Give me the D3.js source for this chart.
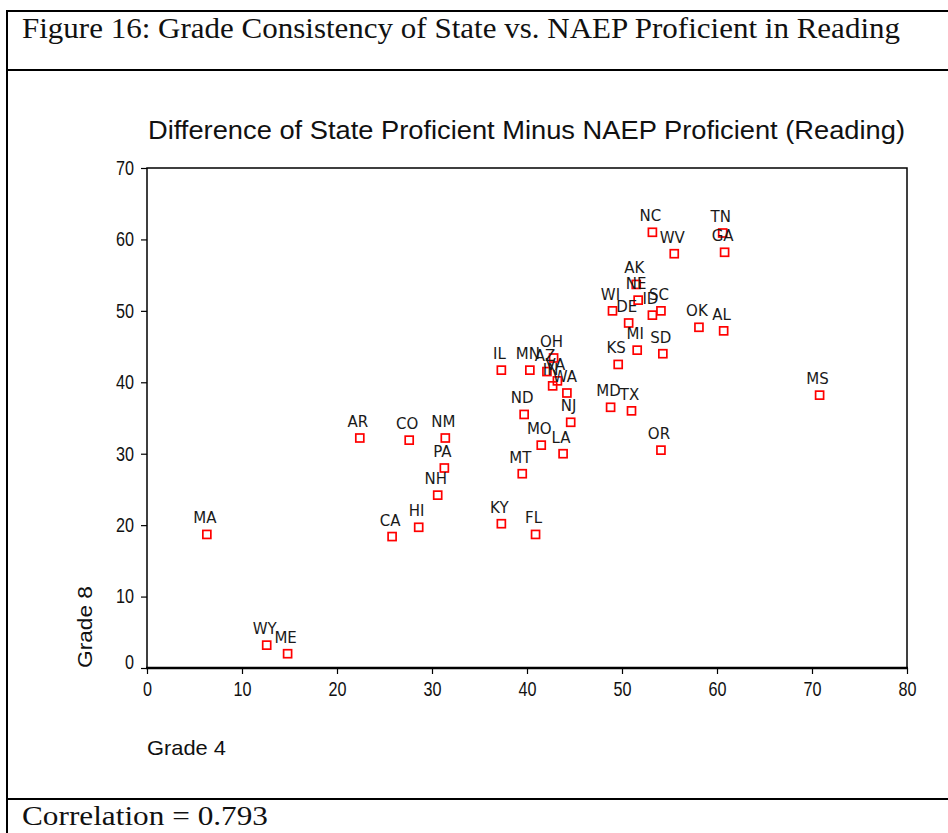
<!DOCTYPE html>
<html>
<head>
<meta charset="utf-8">
<script src="https://cdn.jsdelivr.net/npm/d3@7"></script>
<style>
	html, body { margin: 0; padding: 0; background: #fff; }
	svg { display: block; }
</style>
</head>
<body>
<script>
(function() {
	'use strict';

	// DATA //

	var STATES = [ 'MA', 'WY', 'ME', 'AR', 'CO', 'NM', 'PA', 'NH', 'HI', 'CA', 'KY', 'FL', 'MT', 'MO', 'LA', 'ND', 'NJ', 'IL', 'MN', 'AZ', 'OH', 'VA', 'IN', 'WA', 'NC', 'WV', 'TN', 'GA', 'AK', 'NE', 'WI', 'ID', 'SC', 'DE', 'OK', 'AL', 'MI', 'SD', 'KS', 'MD', 'TX', 'OR', 'MS' ];

	var GRADE4 = [ 6.3, 12.6, 14.8, 22.4, 27.6, 31.4, 31.3, 30.6, 28.6, 25.8, 37.3, 40.9, 39.5, 41.5, 43.8, 39.7, 44.6, 37.3, 40.3, 42.1, 42.8, 43.2, 42.7, 44.2, 53.2, 55.5, 60.6, 60.8, 51.5, 51.7, 49.0, 53.2, 54.1, 50.7, 58.1, 60.7, 51.6, 54.3, 49.6, 48.8, 51.0, 54.1, 70.8 ];

	var GRADE8 = [ 18.7, 3.2, 2.0, 32.2, 31.9, 32.2, 28.0, 24.2, 19.7, 18.4, 20.2, 18.7, 27.2, 31.2, 30.0, 35.5, 34.4, 41.7, 41.7, 41.5, 43.4, 40.2, 39.5, 38.5, 61.0, 58.0, 60.9, 58.2, 53.7, 51.5, 50.0, 49.4, 50.0, 48.3, 47.7, 47.2, 44.5, 44.0, 42.5, 36.5, 36.0, 30.5, 38.2 ];

	var X_TICKS = [ 0, 10, 20, 30, 40, 50, 60, 70, 80 ],
		Y_TICKS = [ 0, 10, 20, 30, 40, 50, 60, 70 ];


	// VARIABLES //

	var WIDTH = 948,
		HEIGHT = 833,
		LEFT = 147,
		RIGHT = 907,
		TOP = 168,
		BOTTOM = 668,
		BOX = 8,
		NARROW = '"Liberation Sans Narrow", "Liberation Sans", Arial, sans-serif';

	var svg, xScale, yScale, plot, points, i;

	// Zip the arrays:
	points = [];
	for ( i = 0; i < STATES.length; i++ ) {
		points.push({ state: STATES[ i ], x: GRADE4[ i ], y: GRADE8[ i ] });
	}

	svg = d3.select( 'body' ).append( 'svg' )
		.attr( 'width', WIDTH )
		.attr( 'height', HEIGHT );

	svg.append( 'rect' )
		.attr( 'width', WIDTH )
		.attr( 'height', HEIGHT )
		.attr( 'fill', '#fff' );

	// Figure frame lines:
	var frame = svg.append( 'g' )
		.attr( 'stroke', '#000' )
		.attr( 'stroke-width', 2 );
	frame.append( 'line' ).attr( 'x1', 7 ).attr( 'x2', WIDTH ).attr( 'y1', 11 ).attr( 'y2', 11 );
	frame.append( 'line' ).attr( 'x1', 7 ).attr( 'x2', WIDTH ).attr( 'y1', 70 ).attr( 'y2', 70 );
	frame.append( 'line' ).attr( 'x1', 7 ).attr( 'x2', WIDTH ).attr( 'y1', 799 ).attr( 'y2', 799 );
	frame.append( 'line' ).attr( 'x1', 7 ).attr( 'x2', 7 ).attr( 'y1', 10 ).attr( 'y2', HEIGHT );

	// Figure caption and footer:
	svg.append( 'text' )
		.attr( 'x', 22 )
		.attr( 'y', 38 )
		.attr( 'font-family', '"Liberation Serif", "DejaVu Serif", serif' )
		.attr( 'font-size', 29 )
		.attr( 'textLength', 878 )
		.attr( 'lengthAdjust', 'spacingAndGlyphs' )
		.attr( 'fill', '#111' )
		.text( 'Figure 16: Grade Consistency of State vs. NAEP Proficient in Reading' );

	svg.append( 'text' )
		.attr( 'x', 22 )
		.attr( 'y', 825 )
		.attr( 'font-family', '"Liberation Serif", "DejaVu Serif", serif' )
		.attr( 'font-size', 28 )
		.attr( 'textLength', 246 )
		.attr( 'lengthAdjust', 'spacingAndGlyphs' )
		.attr( 'fill', '#111' )
		.text( 'Correlation = 0.793' );

	// Chart title:
	svg.append( 'text' )
		.attr( 'x', LEFT + 1 )
		.attr( 'y', 139 )
		.attr( 'font-family', NARROW )
		.attr( 'font-size', 25 )
		.attr( 'textLength', 757 )
		.attr( 'lengthAdjust', 'spacingAndGlyphs' )
		.attr( 'fill', '#111' )
		.text( 'Difference of State Proficient Minus NAEP Proficient (Reading)' );

	// SCALES //

	xScale = d3.scaleLinear().domain( [ 0, 80 ] ).range( [ LEFT, RIGHT ] );
	yScale = d3.scaleLinear().domain( [ 0, 70 ] ).range( [ BOTTOM, TOP ] );

	// AXES //

	var xAxis = svg.append( 'g' )
		.attr( 'transform', 'translate(0,' + BOTTOM + ')' )
		.call( d3.axisBottom( xScale ).tickValues( X_TICKS ).tickSize( 6 ).tickSizeOuter( 0 ).tickPadding( 8 ) );

	var yAxis = svg.append( 'g' )
		.attr( 'transform', 'translate(' + LEFT + ',0)' )
		.call( d3.axisLeft( yScale ).tickValues( Y_TICKS ).tickSize( 6 ).tickSizeOuter( 0 ).tickPadding( 7 ) );

	[ xAxis, yAxis ].forEach( function ( ax ) {
		ax.select( '.domain' ).remove();
		ax.selectAll( 'line' ).attr( 'stroke', '#000' ).attr( 'stroke-width', 1.2 );
		ax.selectAll( 'text' )
			.attr( 'font-family', NARROW )
			.attr( 'font-size', 20 )
			.attr( 'fill', '#111' )
			.attr( 'textLength', function () { return 9 * this.textContent.length; })
			.attr( 'lengthAdjust', 'spacingAndGlyphs' );
	});

	// Lift the zero label off the x axis, as in the original:
	yAxis.selectAll( '.tick' ).filter( function ( d ) { return d === 0; })
		.select( 'text' ).attr( 'y', -6 );

	// Plot frame:
	svg.append( 'rect' )
		.attr( 'x', LEFT )
		.attr( 'y', TOP )
		.attr( 'width', RIGHT - LEFT )
		.attr( 'height', BOTTOM - TOP )
		.attr( 'fill', 'none' )
		.attr( 'stroke', '#000' )
		.attr( 'stroke-width', 1.5 );
	svg.append( 'line' )
		.attr( 'x1', LEFT - 1 ).attr( 'x2', RIGHT + 1 )
		.attr( 'y1', BOTTOM ).attr( 'y2', BOTTOM )
		.attr( 'stroke', '#000' )
		.attr( 'stroke-width', 2.5 );

	// Axis titles:
	svg.append( 'text' )
		.attr( 'x', LEFT )
		.attr( 'y', 755 )
		.attr( 'font-family', NARROW )
		.attr( 'font-size', 21 )
		.attr( 'textLength', 79 )
		.attr( 'lengthAdjust', 'spacingAndGlyphs' )
		.attr( 'fill', '#111' )
		.text( 'Grade 4' );

	svg.append( 'text' )
		.attr( 'transform', 'translate(92,' + BOTTOM + ') rotate(-90)' )
		.attr( 'font-family', NARROW )
		.attr( 'font-size', 21 )
		.attr( 'textLength', 82 )
		.attr( 'lengthAdjust', 'spacingAndGlyphs' )
		.attr( 'fill', '#111' )
		.text( 'Grade 8' );

	// POINTS //

	plot = svg.append( 'g' ).attr( 'class', 'points' );

	plot.selectAll( 'rect' )
		.data( points )
	  .enter().append( 'rect' )
		.attr( 'x', function ( d ) { return xScale( d.x ) - BOX / 2; })
		.attr( 'y', function ( d ) { return yScale( d.y ) - BOX / 2; })
		.attr( 'width', BOX )
		.attr( 'height', BOX )
		.attr( 'fill', 'none' )
		.attr( 'stroke', '#f00' )
		.attr( 'stroke-width', 1.7 );

	plot.selectAll( 'text' )
		.data( points )
	  .enter().append( 'text' )
		.attr( 'x', function ( d ) { return xScale( d.x ) - 2; })
		.attr( 'y', function ( d ) { return yScale( d.y ) - 11; })
		.attr( 'text-anchor', 'middle' )
		.attr( 'font-family', '"DejaVu Sans", Verdana, sans-serif' )
		.attr( 'font-size', 15 )
		.attr( 'fill', '#1a1a1a' )
		.text( function ( d ) { return d.state; });

})();
</script>
</body>
</html>
